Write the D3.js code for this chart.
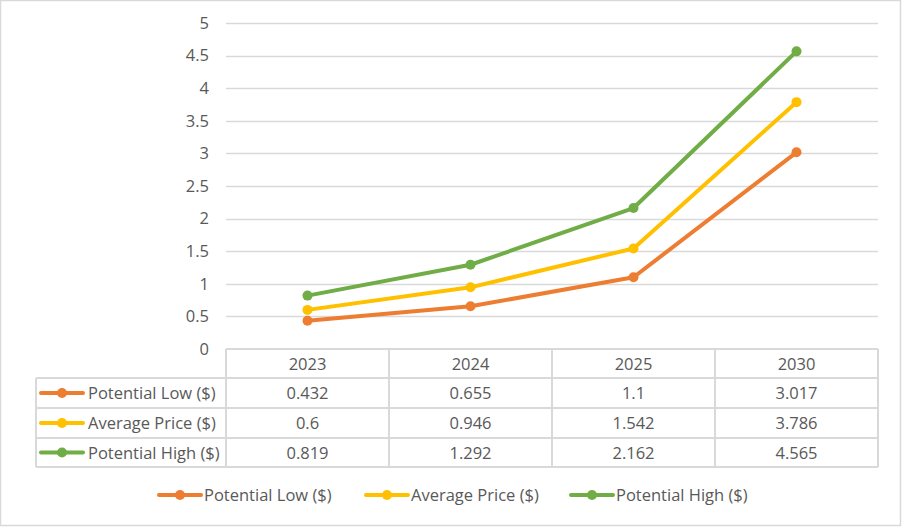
<!DOCTYPE html>
<html><head><meta charset="utf-8">
<script src="https://cdn.jsdelivr.net/npm/d3@7"></script>
<style>body{margin:0;background:#fff}svg{display:block}text{font-family:"Open Sans",Lato,sans-serif;fill:#595959}</style>
</head><body><svg id="c" width="902" height="527"></svg>
<script>
const categories = ["2023","2024","2025","2030"];
const seriesNames = ["Potential Low ($)","Average Price ($)","Potential High ($)"];
const potentialLow = [0.432,0.655,1.1,3.017];
const averagePrice = [0.6,0.946,1.542,3.786];
const potentialHigh = [0.819,1.292,2.162,4.565];
const yTicks = [0,0.5,1,1.5,2,2.5,3,3.5,4,4.5,5];
const colors = ["#ED7D31","#FFC000","#70AD47"];
const series = [potentialLow, averagePrice, potentialHigh];
const FS = 16.5;

const svg = d3.select("#c");
svg.append("rect").attr("x",0.5).attr("y",0.5).attr("width",900).attr("height",525).attr("fill","#fff").attr("stroke","#d9d9d9").attr("stroke-width",1.5);

const L=226, R=878, T=23, B=349;
const x = d3.scaleBand().domain(categories).range([L,R]).padding(0);
const y = d3.scaleLinear().domain([0,5]).range([B,T]);

svg.append("g").selectAll("line").data(yTicks.filter(d=>d>0)).join("line")
  .attr("x1",L).attr("x2",R).attr("y1",d=>Math.round(y(d))+0.5).attr("y2",d=>Math.round(y(d))+0.5)
  .attr("stroke","#d9d9d9").attr("stroke-width",1.5);

const yAxis = d3.axisLeft(y).tickValues(yTicks).tickSize(0).tickPadding(17).tickFormat(d=>String(d));
const ya = svg.append("g").attr("transform",`translate(${L},0)`).call(yAxis);
ya.select(".domain").remove();
ya.selectAll("text").attr("font-size",FS).attr("fill","#595959").style("font-family","'Open Sans',Lato,sans-serif");

const line = d3.line().x((d,i)=>x(categories[i])+x.bandwidth()/2).y(d=>y(d));
series.forEach((s,k)=>{
  svg.append("path").datum(s).attr("d",line).attr("fill","none").attr("stroke",colors[k]).attr("stroke-width",4).attr("stroke-linejoin","round").attr("stroke-linecap","round");
  svg.append("g").selectAll("circle").data(s).join("circle")
    .attr("cx",(d,i)=>x(categories[i])+x.bandwidth()/2).attr("cy",d=>y(d)).attr("r",5).attr("fill",colors[k]);
});

const rowY = [349,378,408,438,467];
const gridC = "#d9d9d9";
const tb = svg.append("g");
tb.append("line").attr("x1",L).attr("x2",R).attr("y1",rowY[0]).attr("y2",rowY[0]).attr("stroke",gridC).attr("stroke-width",2);
rowY.slice(1).forEach(yy=>tb.append("line").attr("x1",36).attr("x2",R).attr("y1",yy).attr("y2",yy).attr("stroke",gridC).attr("stroke-width",2));
[L, ...categories.map(c=>x(c)+x.bandwidth())].forEach(xx=>{
  tb.append("line").attr("x1",xx).attr("x2",xx).attr("y1",rowY[0]).attr("y2",rowY[4]).attr("stroke",gridC).attr("stroke-width",2);
});
tb.append("line").attr("x1",36).attr("x2",36).attr("y1",rowY[1]).attr("y2",rowY[4]).attr("stroke",gridC).attr("stroke-width",2);
categories.forEach(c=>tb.append("text").attr("x",x(c)+x.bandwidth()/2).attr("y",(rowY[0]+rowY[1])/2+6).attr("text-anchor","middle").attr("font-size",FS).text(c));
series.forEach((s,k)=>{
  const cy=(rowY[k+1]+rowY[k+2])/2;
  tb.append("line").attr("x1",41).attr("x2",83).attr("y1",cy).attr("y2",cy).attr("stroke",colors[k]).attr("stroke-width",4).attr("stroke-linecap","round");
  tb.append("circle").attr("cx",62).attr("cy",cy).attr("r",5).attr("fill",colors[k]);
  tb.append("text").attr("x",88).attr("y",cy+6).attr("font-size",FS).text(seriesNames[k]);
  s.forEach((v,i)=>tb.append("text").attr("x",x(categories[i])+x.bandwidth()/2).attr("y",cy+6).attr("text-anchor","middle").attr("font-size",FS).text(String(v)));
});

const legX=[159,366,571];
const lg = svg.append("g");
seriesNames.forEach((n,k)=>{
  const cy=495;
  lg.append("line").attr("x1",legX[k]).attr("x2",legX[k]+42).attr("y1",cy).attr("y2",cy).attr("stroke",colors[k]).attr("stroke-width",4).attr("stroke-linecap","round");
  lg.append("circle").attr("cx",legX[k]+21).attr("cy",cy).attr("r",5).attr("fill",colors[k]);
  lg.append("text").attr("x",legX[k]+45).attr("y",cy+6).attr("font-size",FS).text(n);
});
</script></body></html>
